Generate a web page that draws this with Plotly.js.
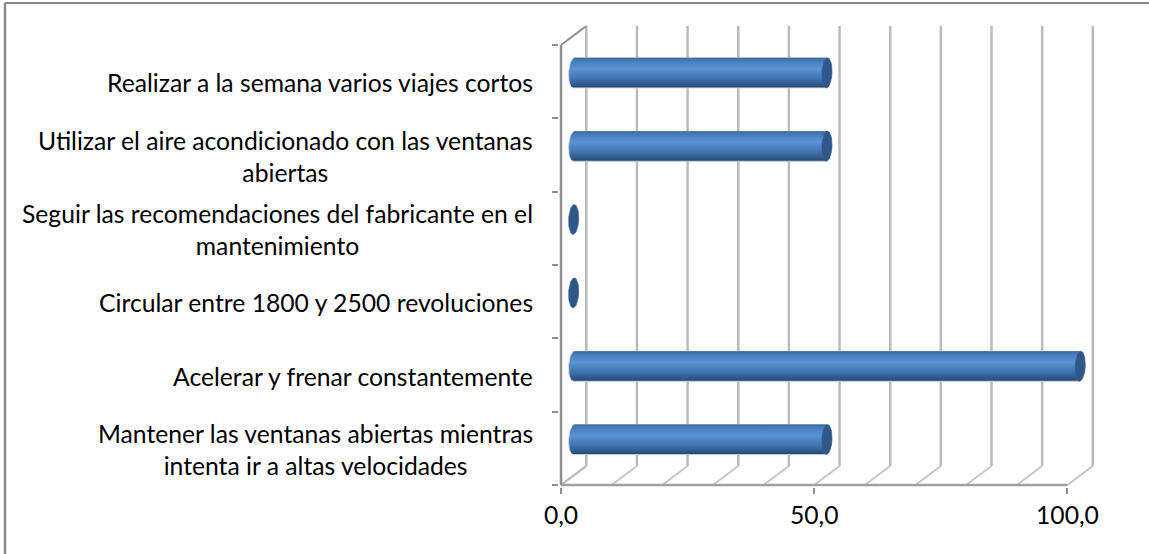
<!DOCTYPE html>
<html>
<head>
<meta charset="utf-8">
<script src="https://cdn.plot.ly/plotly-3.0.1.min.js"></script>
<style>html,body{margin:0;padding:0;background:#fff}#c{width:1149px;height:554px}</style>
</head>
<body>
<div id="c"></div>
<script>
// Data, bottom to top
const categories = [
  "Mantener las ventanas abiertas mientras<br>intenta ir a altas velocidades",
  "Acelerar y frenar constantemente",
  "Circular entre 1800 y 2500 revoluciones",
  "Seguir las recomendaciones del fabricante en el<br>mantenimiento",
  "Utilizar el aire acondicionado con las ventanas<br>abiertas",
  "Realizar a la semana varios viajes cortos"
];
const values = [50, 100, 0, 0, 50, 50];
const xTicks = [0, 50, 100];
const wallTicks = [0, 10, 20, 30, 40, 50, 60, 70, 80, 90, 100];
const yBoundaries = [0, 1, 2, 3, 4, 5, 6];

// 3D look, in axis units
const depthX = 5;      // floor depth along the value axis
const depthY = 0.26;   // floor depth along the category axis
const capX = 1;        // cylinder end radius
const capY = 0.205;    // half height of a cylinder
const capLean = 0.12;
const midX = depthX / 2, midY = depthY / 2 - 0.01;

const traces = [];

function line(xs, ys, color, width) {
  traces.push({type:'scatter', mode:'lines', x:xs, y:ys, hoverinfo:'skip',
    showlegend:false, line:{color:color, width:width}});
}
// Back wall and floor lines
wallTicks.forEach(v => {
  line([v + depthX, v + depthX], [depthY, categories.length + depthY], '#bababa', 2.5);
  line([v, v + depthX], [0, depthY], '#c6c6c6', 2);
});
line([0, depthX], [categories.length, categories.length + depthY], '#8f8f8f', 2);
line([0, depthX], [0, depthY], '#b8b8b8', 2);
// Axis lines stop at the end of the scale
line([0, xTicks[xTicks.length-1]], [0, 0], '#a0a0a0', 2.5);
line([0, 0], [0, categories.length], '#8f8f8f', 2.5);

// The bars
traces.push({type:'bar', orientation:'h', x:values, y:categories.map((c,i)=>i+0.5+midY),
  base:midX, width:capY*2, showlegend:false, hoverinfo:'x',
  marker:{color:'#4f81bd', line:{width:0}}});

function arc(cx, cy, from, to, n) {
  const xs = [], ys = [];
  for (let k = 0; k <= n; k++) {
    const a = from + (to - from) * k / n;
    xs.push(cx + capX * Math.cos(a) + capLean * capX * Math.sin(a));
    ys.push(cy + capY * Math.sin(a));
  }
  return [xs, ys];
}
const PI = Math.PI;
values.forEach((v, i) => {
  const cy = i + 0.5 + midY;
  const x0 = midX, x1 = midX + v;
  if (v > 0) {
    const a = arc(x1, cy, PI/2, -PI/2, 24), b = arc(x0, cy, -PI/2, -3*PI/2, 24);
    traces.push({type:'scatter', mode:'lines', x:a[0].concat(b[0]), y:a[1].concat(b[1]),
      fill:'toself', hoverinfo:'skip', showlegend:false,
      line:{color:'rgba(205,214,228,0.9)', width:1},
      fillgradient:{type:'vertical', colorscale:[
        [0,'#26466e'],[0.1,'#2f5688'],[0.3,'#4072ad'],[0.62,'#5a92d6'],[0.8,'#4f86c6'],[0.93,'#4475b0'],[1,'#3d6a9e']]}});
  }
  const c = arc(x1, cy, 0, 2*PI, 48);
  traces.push({type:'scatter', mode:'lines', x:c[0], y:c[1], fill:'toself',
    hoverinfo:'skip', showlegend:false, fillcolor:'#2f5788',
    line:{color:'#3a6496', width:0.6}});
});

const labelFont = {family:'Lato, "Open Sans", sans-serif', size:24.7, color:'#000'};
const annotations = categories.map((c, i) => ({
  text:c, xref:'x', yref:'y', x:0, y:i+0.5, xanchor:'right', yanchor:'middle',
  xshift:-27, yshift:-1, align:'center', showarrow:false, font:labelFont, borderpad:0
}));

// Plot box in page pixels: 559..1100 across, 23..487 down
const W = 541, H = 464, L = 559, B = 487;
const px = p => (p - L) / W, py = p => (B - p) / H;

Plotly.newPlot('c', traces, {
  width:1149, height:554,
  margin:{l:L, r:1149-L-W, t:B-H, b:554-B, pad:0},
  paper_bgcolor:'#fff', plot_bgcolor:'rgba(0,0,0,0)',
  separators:', ', showlegend:false, barmode:'overlay',
  xaxis:{type:'linear', range:[-0.395,106.42], tickmode:'array', tickvals:xTicks, tickformat:'.1f',
    showgrid:false, zeroline:false, showline:false,
    ticks:'outside', ticklen:6, tickwidth:2, tickcolor:'#8f8f8f', tickfont:labelFont, ticklabelstandoff:0},
  yaxis:{type:'linear', range:[-0.0273,6.3], tickmode:'array', tickvals:yBoundaries, showticklabels:false,
    showgrid:false, zeroline:false, showline:false,
    ticks:'outside', ticklen:6, tickwidth:2, tickcolor:'#8f8f8f'},
  annotations:annotations,
  shapes:[
    {type:'line', xref:'paper', yref:'paper', x0:px(5), x1:px(1149), y0:py(3), y1:py(3), line:{color:'#8a8a8a', width:2}},
    {type:'line', xref:'paper', yref:'paper', x0:px(5), x1:px(5), y0:py(3), y1:py(554), line:{color:'#8a8a8a', width:2.5}}
  ]
}, {displayModeBar:false, staticPlot:true});
</script>
</body>
</html>
